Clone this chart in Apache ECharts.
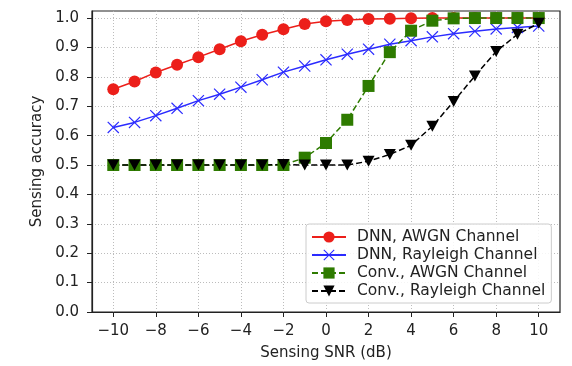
<!DOCTYPE html>
<html><head><meta charset="utf-8">
<script src="https://cdn.jsdelivr.net/npm/echarts@6/dist/echarts.min.js"></script>
<style>html,body{margin:0;padding:0;background:#fff}#c{width:572px;height:366px}</style>
</head><body><div id="c"></div>
<script>
const snr = [-10,-9,-8,-7,-6,-5,-4,-3,-2,-1,0,1,2,3,4,5,6,7,8,9,10];
const dnnAwgn = [0.758,0.784,0.815,0.841,0.867,0.894,0.921,0.943,0.962,0.980,0.989,0.993,0.997,0.998,0.999,1.0,1.0,1.0,1.0,1.0,1.0];
const dnnRayleigh = [0.628,0.645,0.668,0.693,0.719,0.741,0.765,0.790,0.816,0.837,0.858,0.877,0.894,0.911,0.923,0.936,0.947,0.955,0.963,0.968,0.973];
const convAwgn = [0.5,0.5,0.5,0.5,0.5,0.5,0.5,0.5,0.5,0.525,0.575,0.654,0.769,0.884,0.957,0.991,0.999,1.0,1.0,1.0,1.0];
const convRayleigh = [0.5,0.5,0.5,0.5,0.5,0.5,0.5,0.5,0.502,0.5,0.5,0.5,0.513,0.536,0.567,0.632,0.716,0.803,0.886,0.945,0.982];
const xTicks = [-10,-8,-6,-4,-2,0,2,4,6,8,10];
const yTicks = [0,0.1,0.2,0.3,0.4,0.5,0.6,0.7,0.8,0.9,1.0];
const names = ['DNN, AWGN Channel','DNN, Rayleigh Channel','Conv., AWGN Channel','Conv., Rayleigh Channel'];

const X_PATH = 'path://M0,7L7,0L50,43L93,0L100,7L57,50L100,93L93,100L50,57L7,100L0,93L43,50Z';
const font = 'DejaVu Sans';
const pair = a => snr.map((x,i)=>[x,a[i]]);
const grid = {type:[1,2],color:'#b4b4b4',width:0.9};

const chart = echarts.init(document.getElementById('c'), null, {renderer:'canvas'});
chart.setOption({
  animation:false,
  backgroundColor:'#fff',
  grid:{left:92,right:12,top:11,bottom:53,show:true,borderColor:'#222',borderWidth:1.2,backgroundColor:'transparent'},
  xAxis:{type:'value',min:-11,max:11,
    name:'Sensing SNR (dB)',nameLocation:'middle',nameGap:34,
    nameTextStyle:{fontFamily:font,fontSize:15,color:'#222'},
    axisLine:{show:true,onZero:false,lineStyle:{color:'#222',width:1.2}},
    axisTick:{show:true,length:5,customValues:xTicks,lineStyle:{color:'#222'}},
    axisLabel:{customValues:xTicks,fontFamily:font,fontSize:15,color:'#222',margin:12,
      formatter:v=>(v<0?'\u2212'+(-v):''+v)},
    splitLine:{show:true,lineStyle:grid}
  },
  yAxis:{type:'value',min:0,max:1.024,
    name:'Sensing accuracy',nameLocation:'middle',nameGap:47,
    nameTextStyle:{fontFamily:font,fontSize:15,color:'#222'},
    axisLine:{show:true,onZero:false,lineStyle:{color:'#222',width:1.2}},
    axisTick:{show:true,length:5,customValues:yTicks,lineStyle:{color:'#222'}},
    axisLabel:{customValues:yTicks,fontFamily:font,fontSize:15,color:'#222',margin:13,
      formatter:v=>v.toFixed(1)},
    splitLine:{show:true,lineStyle:grid}
  },
  legend:{orient:'vertical',left:306,top:224,itemWidth:34,itemHeight:14,itemGap:2,
    padding:[5,6,4,5],borderColor:'#cccccc',borderWidth:1,borderRadius:3,backgroundColor:'rgba(255,255,255,0.85)',
    textStyle:{fontFamily:font,fontSize:15.5,color:'#222',lineHeight:15,padding:[0,0,0,6]},
    data:names},
  series:[
    {name:names[0],type:'line',data:pair(dnnAwgn),symbol:'circle',symbolSize:12,
      lineStyle:{color:'#ec1f1a',width:1.5},itemStyle:{color:'#ec1f1a'}},
    {name:names[1],type:'line',data:pair(dnnRayleigh),symbol:X_PATH,symbolSize:12,
      lineStyle:{color:'#2b2bff',width:1.5},itemStyle:{color:'#2b2bff'}},
    {name:names[2],type:'line',data:pair(convAwgn),symbol:'rect',symbolSize:12,
      lineStyle:{color:'#2e7b00',width:1.5,type:[6,3]},itemStyle:{color:'#2e7b00'}},
    {name:names[3],type:'line',data:pair(convRayleigh),symbol:'triangle',symbolRotate:180,symbolSize:[12,11],
      lineStyle:{color:'#000',width:1.5,type:[6,3]},itemStyle:{color:'#000'}}
  ]
});
</script></body></html>
